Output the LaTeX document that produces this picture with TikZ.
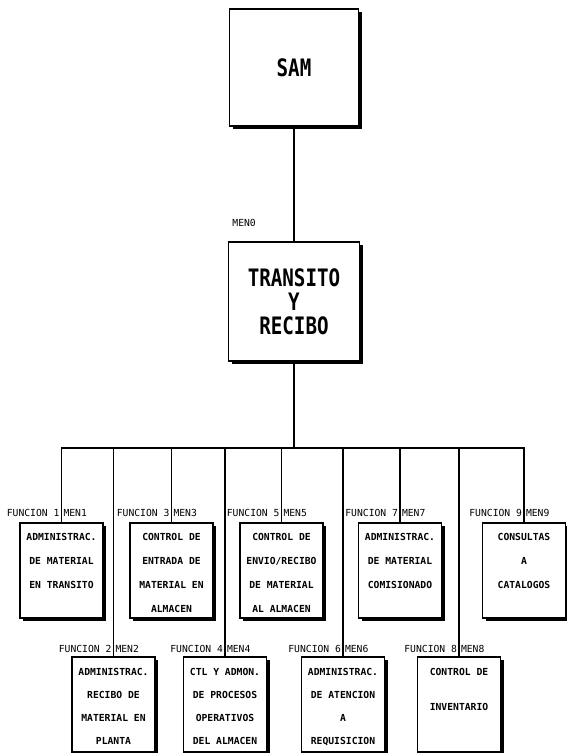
\documentclass[tikz,border=0pt]{standalone}
\usepackage{fontspec}
\usetikzlibrary{positioning,shadows}
\newfontfamily\dotfont{DejaVu Sans Mono}
\newfontfamily\bigdotfont{DejaVu Sans Mono}[FakeStretch=0.8]

\begin{document}
\begin{tikzpicture}[x=1pt,y=-1pt,line width=1.1pt]
\tikzstyle{box}=[draw,fill=white,line width=1.2pt,inner sep=0pt,drop shadow={shadow xshift=3pt,shadow yshift=-3pt,fill=black,opacity=1}]
\tikzstyle{bigbox}=[box,minimum width=129pt,minimum height=117pt,align=center,font=\bigdotfont\bfseries\fontsize{24pt}{24pt}\selectfont]
\tikzstyle{fbox}=[box,minimum width=83pt,minimum height=95pt]
\tikzstyle{ftext}=[inner sep=0pt,align=center,font=\dotfont\bfseries\fontsize{9.7pt}{24pt}\selectfont]
\tikzstyle{ftextb}=[ftext,font=\dotfont\bfseries\fontsize{9.7pt}{23pt}\selectfont]
\tikzstyle{tag}=[inner sep=0pt,font=\dotfont\fontsize{9.7pt}{10pt}\selectfont]
\useasboundingbox (0,0) rectangle (566,753);
% top levels
\node[bigbox] (sam) at (294,67.5) {SAM};
\node[bigbox,minimum width=131pt,minimum height=119pt] (tyr) at (294,301.5) {TRANSITO\\Y\\RECIBO};
\node[tag,above right=14pt and 4pt of tyr.north west] (m0) {MEN0};
\coordinate (bus) at (294,448);
% first row
\node[fbox] (f1) at (61.5,570.5) {};
\node[fbox] (f3) at (171.5,570.5) {};
\node[fbox] (f5) at (281.5,570.5) {};
\node[fbox] (f7) at (400,570.5) {};
\node[fbox] (f9) at (524,570.5) {};
\node[ftext,below=10pt of f1.north] (t1) {ADMINISTRAC.\\DE MATERIAL\\EN TRANSITO};
\node[ftext,below=10pt of f3.north] (t3) {CONTROL DE\\ENTRADA DE\\MATERIAL EN\\ALMACEN};
\node[ftext,below=10pt of f5.north] (t5) {CONTROL DE\\ENVIO/RECIBO\\DE MATERIAL\\AL ALMACEN};
\node[ftext,below=10pt of f7.north] (t7) {ADMINISTRAC.\\DE MATERIAL\\COMISIONADO};
\node[ftext,below=10pt of f9.north] (t9) {CONSULTAS\\A\\CATALOGOS};
% second row
\node[fbox] (f2) at (113.5,704.5) {};
\node[fbox] (f4) at (225,704.5) {};
\node[fbox] (f6) at (343,704.5) {};
\node[fbox] (f8) at (459,704.5) {};
\node[ftextb,below=11pt of f2.north] (t2) {ADMINISTRAC.\\RECIBO DE\\MATERIAL EN\\PLANTA};
\node[ftextb,below=11pt of f4.north] (t4) {CTL Y ADMON.\\DE PROCESOS\\OPERATIVOS\\DEL ALMACEN};
\node[ftextb,below=11pt of f6.north] (t6) {ADMINISTRAC.\\DE ATENCION\\A\\REQUISICION};
\node[ftext,font=\dotfont\bfseries\fontsize{9.7pt}{35pt}\selectfont,below=11pt of f8.north] (t8) {CONTROL DE\\INVENTARIO};
% labels
\foreach \i/\r in {1/5,3/5,5/5,7/5,9/5,2/3,4/3,6/3,8/3} {
  \node[tag,above left=\r pt and 1.5pt of f\i.north] (l\i) {FUNCION \i};
  \node[tag,above right=\r pt and 1.5pt of f\i.north] (m\i) {MEN\i};
}
% connectors
\draw (sam) -- (tyr);
\draw (tyr) -- (bus);
\draw (f1) |- (bus) -| (f9);
\foreach \i in {3,5,7,2,4,6,8}
  \draw (f\i) -- (f\i |- bus);
\end{tikzpicture}
\end{document}
